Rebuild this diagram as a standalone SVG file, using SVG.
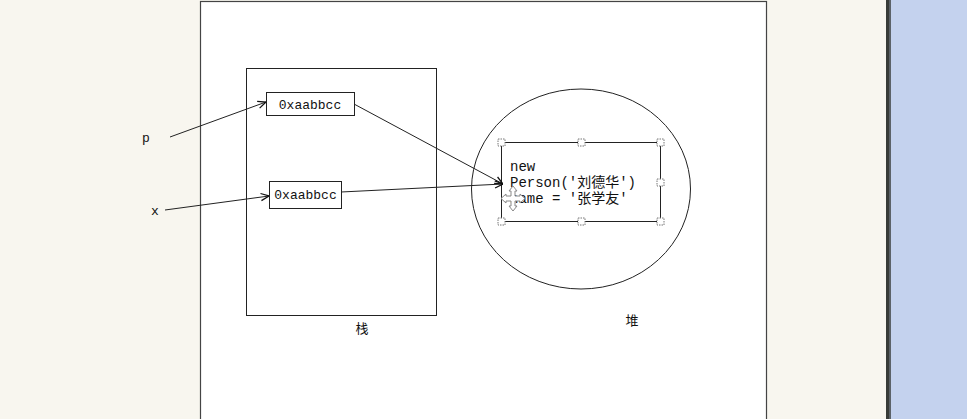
<svg xmlns="http://www.w3.org/2000/svg" width="967" height="419" viewBox="0 0 967 419">
<style>
.ln{fill:none;stroke:#222;stroke-width:1}
.mono{font-family:"Liberation Mono","Noto Sans CJK SC",monospace;fill:#111}
.cjk{font-family:"Noto Sans CJK SC",sans-serif;fill:#111;font-size:13px}
.h{fill:#fff;stroke:#777;stroke-width:1;stroke-dasharray:1.5 1}
</style>
<defs>
<marker id="arr" viewBox="0 0 10 10" refX="10" refY="5" markerWidth="9" markerHeight="9" orient="auto" markerUnits="userSpaceOnUse">
<path d="M1,1 L10,5 L1,9" fill="none" stroke="#111" stroke-width="1.4"/>
</marker>
</defs>
<rect x="0" y="0" width="967" height="419" fill="#f8f6ef"/>
<rect x="886" y="0" width="3" height="419" fill="#383b38"/>
<rect x="889" y="0" width="2" height="419" fill="#5c6268"/>
<rect x="891" y="0" width="76" height="419" fill="#c4d2ee"/>
<rect id="canvas" x="200.5" y="1.5" width="566" height="430" fill="#fff" stroke="#444" stroke-width="1.2"/>
<g id="stack"><rect x="246.5" y="68.5" width="190" height="247" class="ln"/>
<text x="362" y="333" class="cjk" text-anchor="middle">栈</text></g>
<g id="heap"><ellipse cx="581" cy="189" rx="109.5" ry="100" class="ln"/>
<text x="632" y="325" class="cjk" text-anchor="middle">堆</text></g>
<g id="box1"><rect x="266.5" y="92.5" width="88" height="23" class="ln"/>
<text x="310" y="109" class="mono" font-size="13" text-anchor="middle">0xaabbcc</text></g>
<g id="box2"><rect x="269.5" y="181.5" width="72" height="27" class="ln"/>
<text x="305.5" y="199" class="mono" font-size="13" text-anchor="middle">0xaabbcc</text></g>
<g id="label-p"><text x="142" y="142" class="mono" font-size="13">p</text></g>
<g id="label-x"><text x="151" y="215" class="mono" font-size="13">x</text></g>
<g id="object">
<rect x="501.5" y="142.5" width="159" height="79" class="ln" stroke-width="1.3"/>
<g class="h">
<rect x="498" y="139" width="7" height="7"/><rect x="578" y="139" width="7" height="7"/><rect x="657" y="139" width="7" height="7"/>
<rect x="657" y="179" width="7" height="7"/>
<rect x="498" y="218" width="7" height="7"/><rect x="578" y="218" width="7" height="7"/><rect x="657" y="218" width="7" height="7"/>
</g>
<text class="mono" font-size="14"><tspan x="510" y="171">new</tspan><tspan x="510" y="187">Person('刘德华')</tspan><tspan x="510" y="203">name = '张学友'</tspan></text>
</g>
<g id="connectors">
<line x1="170" y1="137" x2="266" y2="102" class="ln" marker-end="url(#arr)"/>
<line x1="165" y1="210" x2="269" y2="196" class="ln" marker-end="url(#arr)"/>
<line x1="354" y1="104" x2="503" y2="184" class="ln" marker-end="url(#arr)"/>
<line x1="341" y1="192" x2="503" y2="184" class="ln" marker-end="url(#arr)"/>
</g>
<path id="cursor" d="M513,186 L517,191 L515,191 L515,196 L520,196 L520,194 L525,198.5 L520,203 L520,201 L515,201 L515,206 L517,206 L513,211 L509,206 L511,206 L511,201 L506,201 L506,203 L501,198.5 L506,194 L506,196 L511,196 L511,191 L509,191 Z" fill="#fff" stroke="#888" stroke-width="1"/>
</svg>
